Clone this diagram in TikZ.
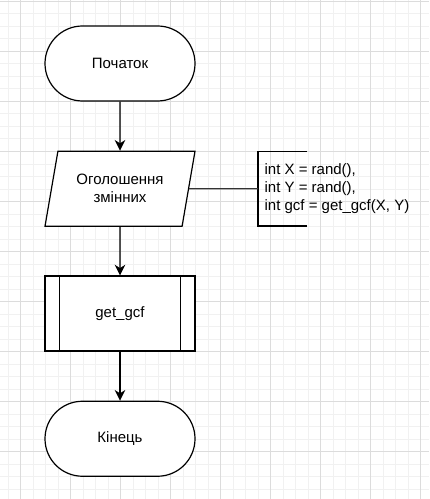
\documentclass[tikz,border=0pt]{standalone}
\usepackage{fontspec}
\setmainfont{Liberation Sans}
\usetikzlibrary{arrows.meta,shapes.geometric}
\definecolor{gridmajor}{RGB}{220,220,220}
\definecolor{gridminor}{RGB}{241,241,241}
\begin{document}
\begin{tikzpicture}[x=0.75pt,y=-0.75pt,line width=0.9pt,
  font=\fontsize{11.25}{13.5}\selectfont,
  terminal/.style={draw,fill=white,rounded corners=28.1pt,
    minimum width=112.5pt,minimum height=56.25pt},
  inout/.style={draw,fill=white,trapezium,trapezium left angle=71,
    trapezium right angle=109,trapezium stretches body,
    minimum width=112.5pt,minimum height=56.25pt,align=center},
  procbox/.style={draw,fill=white,minimum width=112.5pt,minimum height=56.25pt},
  flow/.style={-{Stealth[length=8pt,width=8pt,inset=2.5pt]}}]
\useasboundingbox (0,0) rectangle (429,499);
\fill[white] (0,0) rectangle (429,499);
% grid
\foreach \x in {8,20.5,...,429} \draw[gridminor,line width=0.75pt] (\x,0) -- (\x,499);
\foreach \y in {1.5,14,...,499} \draw[gridminor,line width=0.75pt] (0,\y) -- (429,\y);
\foreach \x in {20.5,70.5,...,429} \draw[gridmajor,line width=0.75pt] (\x,0) -- (\x,499);
\foreach \y in {1.5,51.5,...,499} \draw[gridmajor,line width=0.75pt] (0,\y) -- (429,\y);
% blocks
\node[terminal] (start) at (120,63.5) {Початок};
\node[inout] (decl) at (120,188.75) {Оголошення\\змінних};
\node[procbox] (proc) at (120,313.5) {get\_gcf};
\draw ([xshift=11.25pt]proc.north west) -- ([xshift=11.25pt]proc.south west);
\draw ([xshift=-11.25pt]proc.north east) -- ([xshift=-11.25pt]proc.south east);
\node[terminal] (stop) at (120,438.75) {Кінець};
% comment
\node[anchor=west,inner sep=0pt,align=left] (note) at (264,189)
  {int X = rand(),\\int Y = rand(),\\int gcf = get\_gcf(X, Y)};
\draw (307,151.5) -- (258,151.5) -- (258,226) -- (307,226);
\coordinate (bracket) at (258,188.75);
\draw[black!80] (decl.east) -- (bracket);
% arrows
\draw[flow] (start) -- (decl);
\draw[flow] (decl) -- (proc);
\draw[flow] (proc) -- (stop);
\end{tikzpicture}
\end{document}
